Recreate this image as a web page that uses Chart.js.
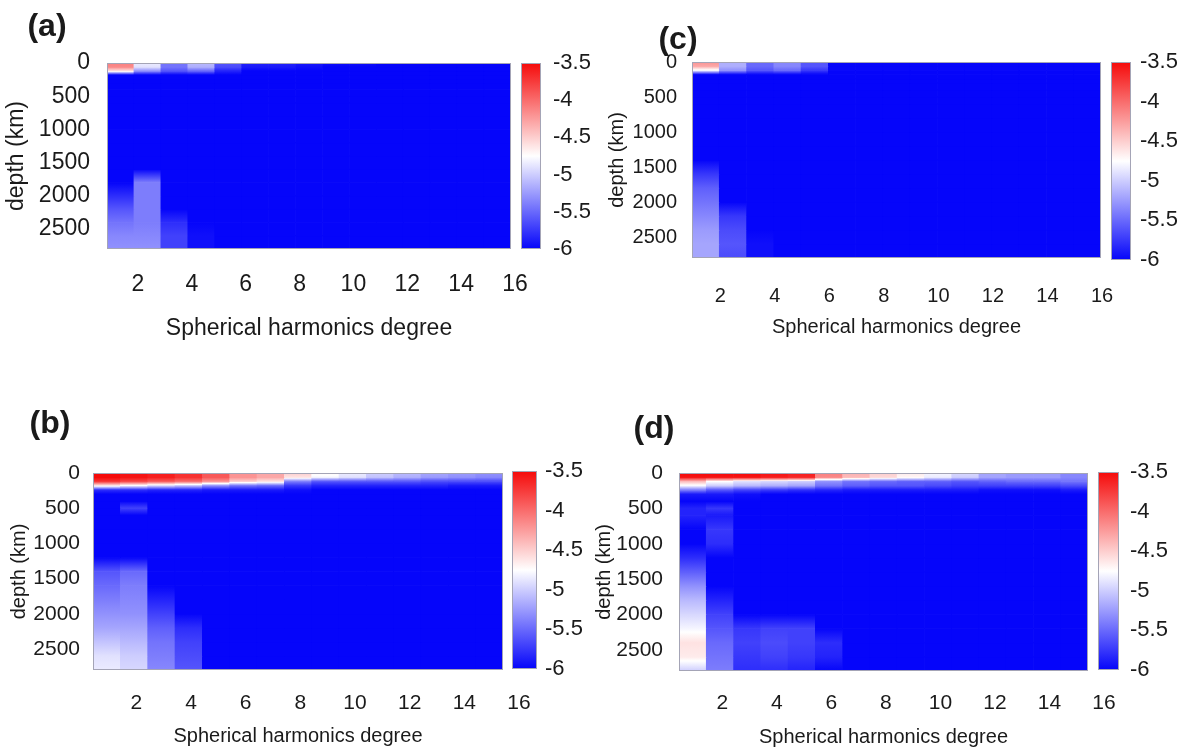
<!DOCTYPE html>
<html>
<head>
  <title>Spherical harmonics degree vs depth</title>
  <script src="https://cdn.jsdelivr.net/npm/chart.js"></script>
  <style>
    body { margin: 0; background: #fff; overflow: hidden; }
    #fig { position: relative; width: 1186px; height: 752px; }
    canvas { position: absolute; }
    .tag { position: absolute; font: bold 32px "Liberation Sans", Arial, sans-serif; color: #1a1a1a; transform: translate(-50%, -50%); }
  </style>
</head>
<body>
<div id="fig"></div>
<script>
  // degrees (one cell per degree, spanning [d, d+1]) and depth nodes in km
  const degrees = [1, 2, 3, 4, 5, 6, 7, 8, 9, 10, 11, 12, 13, 14, 15];
  const depthNodes = [0, 60, 120, 180, 240, 300, 400, 500, 600, 800, 1000, 1200, 1400, 1600, 1800, 2000, 2200, 2400, 2600, 2800];
  const xTicks = [2, 4, 6, 8, 10, 12, 14, 16];
  const yTicks = [0, 500, 1000, 1500, 2000, 2500];
  const cbTicks = [-6, -5.5, -5, -4.5, -4, -3.5];
  const cMin = -6, cMax = -3.5, cMid = -4.75;

  // log10 values per degree column, one value per depth node
  const panelA = [
    [-4.1, -4.15, -4.6, -6, -6,   -6, -6, -6, -6, -6,   -6, -6, -6, -6, -6,   -5.8, -5.6, -5.45, -5.35, -5.3],
    [-4.85, -4.9, -5.3, -6, -6,   -6, -6, -6, -6, -6,   -6, -6, -6, -6, -5.4,   -5.4, -5.4, -5.4, -5.35, -5.3],
    [-5.45, -5.45, -5.6, -6, -6,   -6, -6, -6, -6, -6,   -6, -6, -6, -6, -6,   -6, -6, -5.8, -5.7, -5.7],
    [-5.1, -5.15, -5.5, -6, -6,   -6, -6, -6, -6, -6,   -6, -6, -6, -6, -6,   -6, -6, -6, -5.95, -5.95],
    [-5.6, -5.65, -5.85, -6, -6,   -6, -6, -6, -6, -6,   -6, -6, -6, -6, -6,   -6, -6, -6, -6, -6],
    [-5.85, -5.9, -6, -6, -6,   -6, -6, -6, -6, -6,   -6, -6, -6, -6, -6,   -6, -6, -6, -6, -6],
    [-5.85, -5.9, -6, -6, -6,   -6, -6, -6, -6, -6,   -6, -6, -6, -6, -6,   -6, -6, -6, -6, -6],
    [-5.9, -5.95, -6, -6, -6,   -6, -6, -6, -6, -6,   -6, -6, -6, -6, -6,   -6, -6, -6, -6, -6],
    [-5.95, -6, -6, -6, -6,   -6, -6, -6, -6, -6,   -6, -6, -6, -6, -6,   -6, -6, -6, -6, -6],
    [-5.95, -6, -6, -6, -6,   -6, -6, -6, -6, -6,   -6, -6, -6, -6, -6,   -6, -6, -6, -6, -6],
    [-6, -6, -6, -6, -6,   -6, -6, -6, -6, -6,   -6, -6, -6, -6, -6,   -6, -6, -6, -6, -6],
    [-6, -6, -6, -6, -6,   -6, -6, -6, -6, -6,   -6, -6, -6, -6, -6,   -6, -6, -6, -6, -6],
    [-6, -6, -6, -6, -6,   -6, -6, -6, -6, -6,   -6, -6, -6, -6, -6,   -6, -6, -6, -6, -6],
    [-6, -6, -6, -6, -6,   -6, -6, -6, -6, -6,   -6, -6, -6, -6, -6,   -6, -6, -6, -6, -6],
    [-6, -6, -6, -6, -6,   -6, -6, -6, -6, -6,   -6, -6, -6, -6, -6,   -6, -6, -6, -6, -6]
  ];
  const panelB = [
    [-3.5, -3.5, -3.7, -4.65, -5.8,   -6, -6, -6, -6, -6,   -6, -6, -5.6, -5.5, -5.4,   -5.3, -5.2, -5.05, -4.9, -4.85],
    [-3.55, -3.55, -3.8, -4.8, -5.8,   -6, -6, -5.7, -6, -6,   -6, -6, -5.5, -5.4, -5.35,   -5.3, -5.2, -5.1, -5.0, -4.95],
    [-3.6, -3.6, -3.9, -4.95, -5.85,   -6, -6, -6, -6, -6,   -6, -6, -6, -6, -5.85,   -5.7, -5.55, -5.45, -5.4, -5.35],
    [-3.7, -3.7, -4.0, -5.05, -5.85,   -6, -6, -6, -6, -6,   -6, -6, -6, -6, -6,   -6, -5.8, -5.7, -5.65, -5.6],
    [-3.9, -3.9, -4.2, -5.3, -5.9,   -6, -6, -6, -6, -6,   -6, -6, -6, -6, -6,   -6, -6, -6, -6, -6],
    [-4.2, -4.2, -4.5, -5.45, -5.9,   -6, -6, -6, -6, -6,   -6, -6, -6, -6, -6,   -6, -6, -6, -6, -6],
    [-4.3, -4.3, -4.6, -5.5, -5.9,   -6, -6, -6, -6, -6,   -6, -6, -6, -6, -6,   -6, -6, -6, -6, -6],
    [-4.5, -4.6, -5.4, -5.75, -5.95,   -6, -6, -6, -6, -6,   -6, -6, -6, -6, -6,   -6, -6, -6, -6, -6],
    [-4.7, -4.8, -5.6, -5.85, -6,   -6, -6, -6, -6, -6,   -6, -6, -6, -6, -6,   -6, -6, -6, -6, -6],
    [-4.85, -4.9, -5.6, -5.85, -6,   -6, -6, -6, -6, -6,   -6, -6, -6, -6, -6,   -6, -6, -6, -6, -6],
    [-5.0, -5.05, -5.6, -5.85, -6,   -6, -6, -6, -6, -6,   -6, -6, -6, -6, -6,   -6, -6, -6, -6, -6],
    [-5.1, -5.15, -5.6, -5.85, -6,   -6, -6, -6, -6, -6,   -6, -6, -6, -6, -6,   -6, -6, -6, -6, -6],
    [-5.2, -5.25, -5.65, -5.85, -6,   -6, -6, -6, -6, -6,   -6, -6, -6, -6, -6,   -6, -6, -6, -6, -6],
    [-5.25, -5.3, -5.65, -5.9, -6,   -6, -6, -6, -6, -6,   -6, -6, -6, -6, -6,   -6, -6, -6, -6, -6],
    [-5.3, -5.35, -5.65, -5.9, -6,   -6, -6, -6, -6, -6,   -6, -6, -6, -6, -6,   -6, -6, -6, -6, -6]
  ];
  const panelC = [
    [-4.2, -4.3, -4.8, -6, -6,   -6, -6, -6, -6, -6,   -6, -6, -6, -5.75, -5.55,   -5.45, -5.35, -5.25, -5.2, -5.2],
    [-5.15, -5.15, -5.3, -6, -6,   -6, -6, -6, -6, -6,   -6, -6, -6, -6, -6,   -6, -5.75, -5.65, -5.6, -5.65],
    [-5.5, -5.5, -5.6, -6, -6,   -6, -6, -6, -6, -6,   -6, -6, -6, -6, -6,   -6, -6, -6, -5.95, -5.95],
    [-5.35, -5.35, -5.5, -6, -6,   -6, -6, -6, -6, -6,   -6, -6, -6, -6, -6,   -6, -6, -6, -6, -6],
    [-5.6, -5.6, -5.75, -6, -6,   -6, -6, -6, -6, -6,   -6, -6, -6, -6, -6,   -6, -6, -6, -6, -6],
    [-6, -6, -6, -6, -6,   -6, -6, -6, -6, -6,   -6, -6, -6, -6, -6,   -6, -6, -6, -6, -6],
    [-6, -6, -6, -6, -6,   -6, -6, -6, -6, -6,   -6, -6, -6, -6, -6,   -6, -6, -6, -6, -6],
    [-6, -6, -6, -6, -6,   -6, -6, -6, -6, -6,   -6, -6, -6, -6, -6,   -6, -6, -6, -6, -6],
    [-6, -6, -6, -6, -6,   -6, -6, -6, -6, -6,   -6, -6, -6, -6, -6,   -6, -6, -6, -6, -6],
    [-6, -6, -6, -6, -6,   -6, -6, -6, -6, -6,   -6, -6, -6, -6, -6,   -6, -6, -6, -6, -6],
    [-6, -6, -6, -6, -6,   -6, -6, -6, -6, -6,   -6, -6, -6, -6, -6,   -6, -6, -6, -6, -6],
    [-6, -6, -6, -6, -6,   -6, -6, -6, -6, -6,   -6, -6, -6, -6, -6,   -6, -6, -6, -6, -6],
    [-6, -6, -6, -6, -6,   -6, -6, -6, -6, -6,   -6, -6, -6, -6, -6,   -6, -6, -6, -6, -6],
    [-6, -6, -6, -6, -6,   -6, -6, -6, -6, -6,   -6, -6, -6, -6, -6,   -6, -6, -6, -6, -6],
    [-6, -6, -6, -6, -6,   -6, -6, -6, -6, -6,   -6, -6, -6, -6, -6,   -6, -6, -6, -6, -6]
  ];
  const panelD = [
    [-3.5, -3.55, -4.4, -4.8, -5.4,   -5.9, -6, -5.85, -5.85, -6,   -6, -5.8, -5.55, -5.3, -5.1,   -4.95, -4.8, -4.6, -4.65, -5.0],
    [-3.5, -3.55, -4.75, -5.0, -5.6,   -5.9, -6, -5.75, -5.9, -5.75,   -5.8, -6, -6, -6, -5.85,   -5.7, -5.6, -5.5, -5.45, -5.4],
    [-3.5, -3.55, -4.9, -5.1, -5.7,   -5.95, -6, -6, -6, -6,   -6, -6, -6, -6, -6,   -6, -5.75, -5.7, -5.75, -5.8],
    [-3.55, -3.6, -4.95, -5.15, -5.75,   -6, -6, -6, -6, -6,   -6, -6, -6, -6, -6,   -6, -5.7, -5.65, -5.7, -5.8],
    [-3.6, -3.65, -5.0, -5.2, -5.8,   -6, -6, -6, -6, -6,   -6, -6, -6, -6, -6,   -6, -5.7, -5.7, -5.75, -5.85],
    [-4.1, -4.15, -5.3, -5.45, -5.85,   -6, -6, -6, -6, -6,   -6, -6, -6, -6, -6,   -6, -6, -5.8, -5.85, -6],
    [-4.35, -4.4, -5.45, -5.55, -5.9,   -6, -6, -6, -6, -6,   -6, -6, -6, -6, -6,   -6, -6, -6, -6, -6],
    [-4.5, -4.55, -5.5, -5.6, -5.9,   -6, -6, -6, -6, -6,   -6, -6, -6, -6, -6,   -6, -6, -6, -6, -6],
    [-4.65, -4.7, -5.55, -5.6, -5.9,   -6, -6, -6, -6, -6,   -6, -6, -6, -6, -6,   -6, -6, -6, -6, -6],
    [-4.8, -4.85, -5.55, -5.65, -5.9,   -6, -6, -6, -6, -6,   -6, -6, -6, -6, -6,   -6, -6, -6, -6, -6],
    [-4.95, -5.0, -5.6, -5.7, -5.9,   -6, -6, -6, -6, -6,   -6, -6, -6, -6, -6,   -6, -6, -6, -6, -6],
    [-5.2, -5.2, -5.55, -5.7, -5.95,   -6, -6, -6, -6, -6,   -6, -6, -6, -6, -6,   -6, -6, -6, -6, -6],
    [-5.25, -5.25, -5.5, -5.7, -5.95,   -6, -6, -6, -6, -6,   -6, -6, -6, -6, -6,   -6, -6, -6, -6, -6],
    [-5.25, -5.25, -5.5, -5.7, -5.95,   -6, -6, -6, -6, -6,   -6, -6, -6, -6, -6,   -6, -6, -6, -6, -6],
    [-5.35, -5.35, -5.45, -5.65, -5.9,   -6, -6, -6, -6, -6,   -6, -6, -6, -6, -6,   -6, -6, -6, -6, -6]
  ];

  // layout of each panel (pixel boxes)
  const panels = [
    { tag: '(a)', tagXY: [47, 25], cols: panelA, left: 0, plot: [107, 63, 511, 249],
      tickFont: 23, titleFont: 23, yTitleFont: 23, xPad: 22, yPad: 17, yTitlePad: 3, xTitleY: 328, labelOffset: 4,
      bar: [521, 63, 541, 249], barPad: 12 },
    { tag: '(b)', tagXY: [50, 422], cols: panelB, left: 0, plot: [93, 473, 503, 670],
      tickFont: 21, titleFont: 20, yTitleFont: 20, xPad: 21, yPad: 13, yTitlePad: 7, xTitleY: 736, labelOffset: 16,
      bar: [512, 471, 537, 669], barPad: 8 },
    { tag: '(c)', tagXY: [678, 38], cols: panelC, left: 600, plot: [692, 62, 1101, 258],
      tickFont: 20, titleFont: 20, yTitleFont: 20, xPad: 26, yPad: 15, yTitlePad: 5, xTitleY: 327, labelOffset: 1,
      bar: [1111, 62, 1131, 260], barPad: 9 },
    { tag: '(d)', tagXY: [654, 427], cols: panelD, left: 580, plot: [679, 473, 1088, 671],
      tickFont: 21, titleFont: 20, yTitleFont: 20, xPad: 20, yPad: 16, yTitlePad: 12, xTitleY: 737, labelOffset: 16,
      bar: [1098, 472, 1119, 670], barPad: 11 }
  ];

  const PAD = 50; // room above/right of each plot for overhanging labels

  Chart.defaults.font.family = '"Liberation Sans", Arial, sans-serif';
  Chart.defaults.color = '#1a1a1a';
  Chart.defaults.plugins.legend.display = false;
  Chart.defaults.plugins.tooltip.enabled = false;

  // blue -> white -> red palette
  function toRgb(v) {
    const t = Math.max(0, Math.min(1, (v - cMin) / (cMax - cMin)));
    let r, g, b;
    if (t < 0.5) {
      const s = t / 0.5;
      r = Math.round(5 + 250 * s); g = r; b = Math.round(250 + 5 * s);
    } else {
      const s = (t - 0.5) / 0.5;
      r = Math.round(255 - 10 * s); g = Math.round(255 - 245 * s); b = g;
    }
    return 'rgb(' + r + ',' + g + ',' + b + ')';
  }

  function shade(ctx, y0, y1, v0, v1) {
    if (v0 === v1) return toRgb(v0);
    const grad = ctx.createLinearGradient(0, y0, 0, y1);
    grad.addColorStop(0, toRgb(v0));
    if ((v0 - cMid) * (v1 - cMid) < 0) grad.addColorStop((cMid - v0) / (v1 - v0), 'rgb(255,255,255)');
    grad.addColorStop(1, toRgb(v1));
    return grad;
  }

  const frame = {
    id: 'frame',
    afterDatasetsDraw(chart) {
      const { ctx, chartArea: a } = chart;
      ctx.save();
      ctx.strokeStyle = '#a4a4b6';
      ctx.lineWidth = 1;
      ctx.strokeRect(a.left + 0.5, a.top + 0.5, a.width - 1, a.height - 1);
      ctx.restore();
    }
  };

  const fig = document.getElementById('fig');

  function addCanvas(x, y, w, h) {
    const c = document.createElement('canvas');
    c.width = w; c.height = h;
    c.style.left = x + 'px'; c.style.top = y + 'px';
    c.style.width = w + 'px'; c.style.height = h + 'px';
    fig.appendChild(c);
    return c;
  }

  panels.forEach(p => {
    const [L, T, R, B] = p.plot;
    const xH = Math.round(p.xTitleY + p.titleFont * 0.6 + 2 - B);
    const top = T - PAD;
    const canvas = addCanvas(p.left, top, R + PAD - p.left, B + xH - top);

    const datasets = depthNodes.slice(0, -1).map((d0, k) => {
      const d1 = depthNodes[k + 1];
      return {
        data: degrees.map(deg => ({ x: deg + 0.5, y: [d0, d1] })),
        grouped: false,
        barPercentage: 1,
        categoryPercentage: 1,
        borderWidth: 0,
        backgroundColor: c => {
          if (c.type !== 'data' || !c.chart.chartArea) return toRgb(cMin);
          const ys = c.chart.scales.y;
          const col = p.cols[c.dataIndex];
          return shade(c.chart.ctx, ys.getPixelForValue(d0), ys.getPixelForValue(d1), col[k], col[k + 1]);
        }
      };
    });

    new Chart(canvas, {
      type: 'bar',
      data: { datasets },
      plugins: [frame],
      options: {
        responsive: false,
        animation: false,
        layout: { padding: { top: PAD, right: PAD, left: 0, bottom: 0 } },
        scales: {
          x: {
            type: 'linear', min: 1, max: 16, offset: false,
            grid: { display: false, drawTicks: false },
            border: { display: false },
            afterBuildTicks: s => { s.ticks = xTicks.map(v => ({ value: v })); },
            afterFit: s => { s.height = xH; },
            ticks: { font: { size: p.tickFont }, padding: p.xPad, labelOffset: p.labelOffset, maxRotation: 0, autoSkip: false, callback: v => String(v) },
            title: { display: true, text: 'Spherical harmonics degree', font: { size: p.titleFont }, padding: { top: 0, bottom: 2 } }
          },
          y: {
            type: 'linear', reverse: true, min: 0, max: 2800, beginAtZero: false,
            grid: { display: false, drawTicks: false },
            border: { display: false },
            afterBuildTicks: s => { s.ticks = yTicks.map(v => ({ value: v })); },
            afterFit: s => { s.width = L - p.left; },
            ticks: { font: { size: p.tickFont }, padding: p.yPad, callback: v => String(v) },
            title: { display: true, text: 'depth (km)', font: { size: p.yTitleFont }, padding: { top: p.yTitlePad, bottom: 0 } }
          }
        }
      }
    });

    // colour bar
    const [bx0, by0, bx1, by1] = p.bar;
    const cbCanvas = addCanvas(bx0, by0 - PAD, bx1 - bx0 + 60, by1 - by0 + 2 * PAD);
    new Chart(cbCanvas, {
      type: 'bar',
      data: {
        labels: ['cb'],
        datasets: [{
          data: [[cMin, cMax]],
          barPercentage: 1,
          categoryPercentage: 1,
          borderWidth: 1,
          borderColor: '#a4a4b6',
          borderSkipped: false,
          inflateAmount: 0,
          backgroundColor: c => {
            if (!c.chart.chartArea) return toRgb(cMin);
            const ys = c.chart.scales.y;
            const grad = c.chart.ctx.createLinearGradient(0, ys.getPixelForValue(cMin), 0, ys.getPixelForValue(cMax));
            grad.addColorStop(0, toRgb(cMin));
            grad.addColorStop(0.5, toRgb(cMid));
            grad.addColorStop(1, toRgb(cMax));
            return grad;
          }
        }]
      },
      options: {
        responsive: false,
        animation: false,
        layout: { padding: { top: PAD, bottom: PAD, left: 0, right: 0 } },
        scales: {
          x: { display: false },
          y: {
            position: 'right', min: cMin, max: cMax, beginAtZero: false,
            grid: { display: false, drawTicks: false },
            border: { display: false },
            afterBuildTicks: s => { s.ticks = cbTicks.map(v => ({ value: v })); },
            afterFit: s => { s.width = 60; },
            ticks: { font: { size: 22 }, padding: p.barPad, callback: v => String(v) }
          }
        }
      }
    });

    const tag = document.createElement('div');
    tag.className = 'tag';
    tag.textContent = p.tag;
    tag.style.left = p.tagXY[0] + 'px';
    tag.style.top = p.tagXY[1] + 'px';
    fig.appendChild(tag);
  });
</script>
</body>
</html>
